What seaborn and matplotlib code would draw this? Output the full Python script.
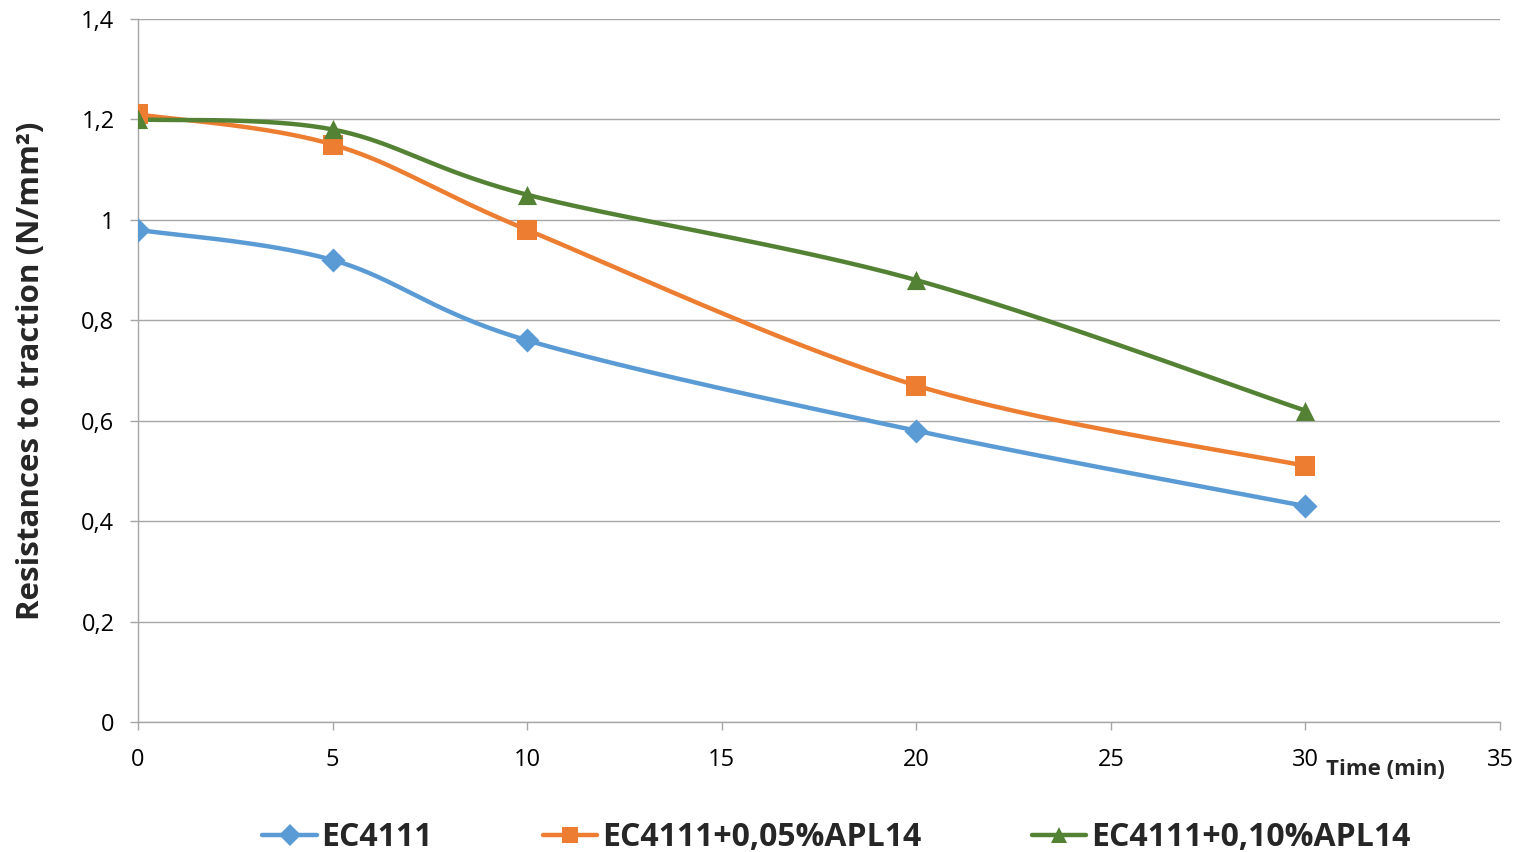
import numpy as np
import pandas as pd
import matplotlib
matplotlib.use("Agg")
import matplotlib.pyplot as plt
import seaborn as sns
from matplotlib.lines import Line2D

time_min = [0, 5, 10, 20, 30]
ec4111 = [0.98, 0.92, 0.76, 0.58, 0.43]
ec4111_005 = [1.21, 1.15, 0.98, 0.67, 0.51]
ec4111_010 = [1.20, 1.18, 1.05, 0.88, 0.62]
series_names = ["EC4111", "EC4111+0,05%APL14", "EC4111+0,10%APL14"]
colors = ["#5B9BD5", "#ED7D31", "#548235"]
markers = ["D", "s", "^"]


def smooth(xs, ys, n=40):
    # excel-like bezier smoothing through the points
    p = np.column_stack([xs, ys]).astype(float)
    out = []
    for i in range(len(p) - 1):
        p0 = p[i - 1] if i > 0 else p[i]
        p3 = p[i + 2] if i + 2 < len(p) else p[i + 1]
        c1 = p[i] + (p[i + 1] - p0) / 6
        c2 = p[i + 1] - (p3 - p[i]) / 6
        t = np.linspace(0, 1, n)[:, None]
        seg = ((1 - t) ** 3) * p[i] + 3 * ((1 - t) ** 2) * t * c1 + 3 * (1 - t) * t ** 2 * c2 + t ** 3 * p[i + 1]
        out.append(seg if i == 0 else seg[1:])
    out = np.vstack(out)
    return out[:, 0], out[:, 1]


sns.set_theme(style="white")
plt.rcParams["font.family"] = ["Open Sans", "DejaVu Sans"]

fig = plt.figure(figsize=(15.19, 8.52), dpi=100)
ax = fig.add_axes([0.0909, 0.1526, 0.8966, 0.8251])

handles = []
for name, vals, c, m in zip(series_names, [ec4111, ec4111_005, ec4111_010], colors, markers):
    sx, sy = smooth(time_min, vals)
    curve = pd.DataFrame({"x": sx, "y": sy})
    sns.lineplot(data=curve, x="x", y="y", sort=False, color=c, linewidth=3.2, ax=ax, zorder=3)
    pts = pd.DataFrame({"x": time_min, "y": vals})
    sns.scatterplot(data=pts, x="x", y="y", marker=m, color=c, s=190 if m != "D" else 150,
                    edgecolor=c, linewidth=0, ax=ax, zorder=4)
    handles.append(Line2D([0], [0], color=c, linewidth=3.2, marker=m, markersize=12 if m != "D" else 11,
                          markeredgewidth=0))

ax.set_xlim(0, 35)
ax.set_ylim(0, 1.4)
ax.set_xticks(range(0, 36, 5))
ax.set_yticks(np.arange(0, 1.41, 0.2))
ax.set_yticklabels(["0", "0,2", "0,4", "0,6", "0,8", "1", "1,2", "1,4"])
ax.yaxis.grid(True, color="#A6A6A6", linewidth=1)
ax.xaxis.grid(False)
for s in ["top", "right"]:
    ax.spines[s].set_visible(False)
for s in ["left", "bottom"]:
    ax.spines[s].set_color("#A6A6A6")
    ax.spines[s].set_linewidth(1)
ax.tick_params(axis="both", which="major", direction="out", length=6, width=1, color="#A6A6A6",
               labelsize=17, labelcolor="black", left=True, bottom=True)
ax.tick_params(axis="x", pad=13)
ax.tick_params(axis="y", pad=11)

ax.set_xlabel("")
ax.set_ylabel("Resistances to traction (N/mm²)", fontsize=22.5, fontweight="bold")
ax.yaxis.set_label_coords(-0.0675, 0.5)
ax.text(0.9156, -0.068, "Time (min)", transform=ax.transAxes, fontsize=16, fontweight="bold",
        ha="center", va="center")

fig.legend(handles, series_names, loc="center", bbox_to_anchor=(0.5505, 0.017), ncol=3, frameon=False,
           prop={"size": 23, "weight": "bold"}, handlelength=1.7, handletextpad=0.15, columnspacing=3.45)

fig.savefig("out.png", dpi=100)
